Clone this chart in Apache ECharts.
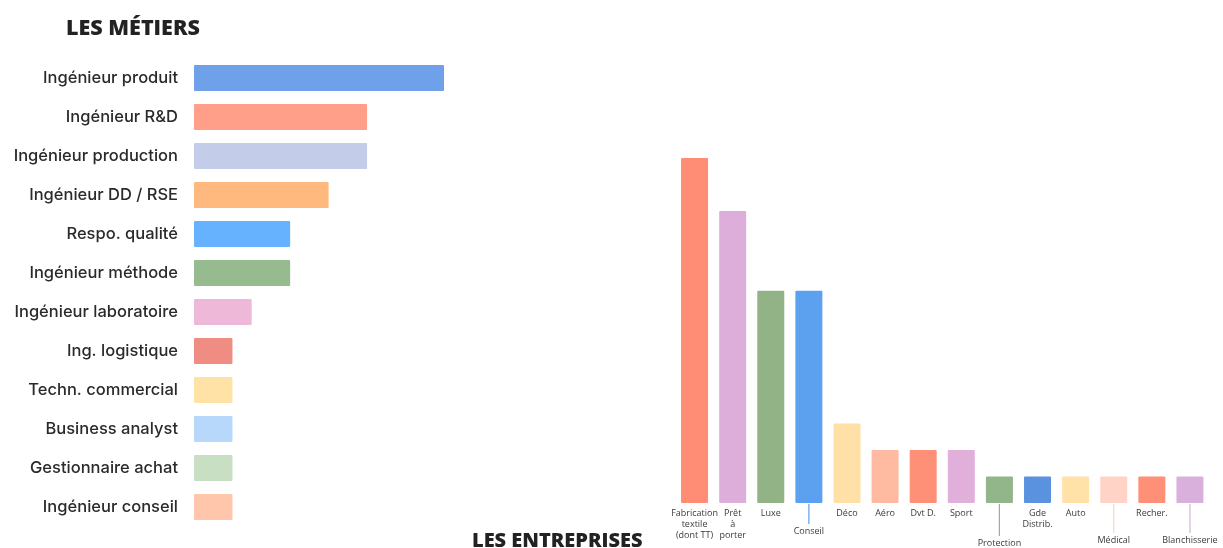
<!DOCTYPE html>
<html>
<head>
<meta charset="utf-8">
<script src="https://cdn.jsdelivr.net/npm/echarts@6/dist/echarts.min.js"></script>
<style>
  html, body { margin: 0; padding: 0; background: #fff; }
  #chart { width: 1223px; height: 548px; }
</style>
</head>
<body>
<div id="chart"></div>
<script>
// Les métiers
const metiers = ['Ingénieur produit', 'Ingénieur R&D', 'Ingénieur production', 'Ingénieur DD / RSE',
    'Respo. qualité', 'Ingénieur méthode', 'Ingénieur laboratoire', 'Ing. logistique',
    'Techn. commercial', 'Business analyst', 'Gestionnaire achat', 'Ingénieur conseil'];
const metiersValues = [13, 9, 9, 7, 5, 5, 3, 2, 2, 2, 2, 2];

// Les entreprises
const entreprises = ['Fabrication\ntextile\n(dont TT)', 'Prêt\nà\nporter', 'Luxe', 'Conseil', 'Déco', 'Aéro',
    'Dvt D.', 'Sport', 'Protection', 'Gde\nDistrib.', 'Auto', 'Médical', 'Recher.', 'Blanchisserie'];
const entreprisesValues = [13, 11, 8, 8, 3, 2, 2, 2, 1, 1, 1, 1, 1, 1];

// couleurs
const metiersColors = ['#6fa0ea', '#ff9f8a', '#c3cdea', '#ffb97f', '#66b2ff', '#95bb8f',
    '#eeb8d8', '#ef8d83', '#ffe2a6', '#b8d8fb', '#c8dfc4', '#ffc6ab'];
const entreprisesColors = ['#ff8c75', '#deaedb', '#91b385', '#5ca0f0', '#ffe0a6', '#ffbaa2',
    '#ff9078', '#e0b0da', '#93b58a', '#5b92e0', '#ffe2a8', '#ffd3c6', '#ff9078', '#d9b0db'];

// labels décalés vers le bas (px) avec un trait
const labelDrop = { 'Conseil': 18, 'Protection': 30, 'Médical': 27, 'Blanchisserie': 27 };

const chart = echarts.init(document.getElementById('chart'));

const rich = {};
[0, 18, 27, 30].forEach(function (d) {
    rich['o' + d] = { fontSize: 9, color: '#3a3a3a', fontFamily: 'Open Sans', lineHeight: 11, padding: [d * 2, 0, 0, 0], align: 'center' };
    rich['p' + d] = { fontSize: 9, color: '#3a3a3a', fontFamily: 'Open Sans', lineHeight: 11, align: 'center' };
});

chart.setOption({
    animation: false,
    title: [
        { text: 'LES MÉTIERS', left: 61, top: 13,
          textStyle: { fontFamily: 'Open Sans', fontWeight: 800, fontSize: 21.5, color: '#222' } },
        { text: 'LES ENTREPRISES', left: 467, top: 526,
          textStyle: { fontFamily: 'Open Sans', fontWeight: 800, fontSize: 20, color: '#222' } }
    ],
    grid: [
        { left: 194, top: 58.5, width: 250, height: 468 },
        { left: 675.5, top: 158, width: 533.5, height: 345 }
    ],
    xAxis: [
        { gridIndex: 0, type: 'value', min: 0, max: 13, show: false },
        { gridIndex: 1, type: 'category', data: entreprises,
          axisLine: { show: false }, axisTick: { show: false },
          axisLabel: {
              interval: 0, margin: 5,
              formatter: function (v) {
                  const d = labelDrop[v] || 0;
                  return v.split('\n').map(function (l, i) {
                      return '{' + (i === 0 ? 'o' : 'p') + d + '|' + l + '}';
                  }).join('\n');
              },
              rich: rich
          } }
    ],
    yAxis: [
        { gridIndex: 0, type: 'category', data: metiers, inverse: true,
          axisLine: { show: false }, axisTick: { show: false },
          axisLabel: { margin: 16, fontFamily: 'Inter', fontWeight: 500, fontSize: 16.5, color: '#2a2a2a' } },
        { gridIndex: 1, type: 'value', min: 0, max: 13, show: false, splitLine: { show: false } }
    ],
    series: [
        {
            type: 'bar', xAxisIndex: 0, yAxisIndex: 0,
            data: metiersValues, barWidth: 26,
            itemStyle: {
                borderRadius: 1,
                color: function (p) { return metiersColors[p.dataIndex]; }
            }
        },
        {
            type: 'bar', xAxisIndex: 1, yAxisIndex: 1,
            data: entreprisesValues, barWidth: 27,
            itemStyle: {
                borderRadius: 1,
                color: function (p) { return entreprisesColors[p.dataIndex]; }
            }
        },
        {
            // traits vers les labels décalés
            type: 'custom', xAxisIndex: 1, yAxisIndex: 1, silent: true,
            data: entreprises.map(function (n, i) { return [i, 0]; })
                .filter(function (d) { return labelDrop[entreprises[d[0]]]; }),
            renderItem: function (params, api) {
                const idx = api.value(0);
                const pt = api.coord([idx, 0]);
                const len = labelDrop[entreprises[idx]] + 3;
                return {
                    type: 'line',
                    shape: { x1: pt[0], y1: pt[1] + 1, x2: pt[0], y2: pt[1] + len },
                    style: { stroke: entreprisesColors[idx], lineWidth: 1.2 }
                };
            }
        }
    ]
});

window.addEventListener('resize', function () {
    chart.resize();
});
</script>
</body>
</html>
